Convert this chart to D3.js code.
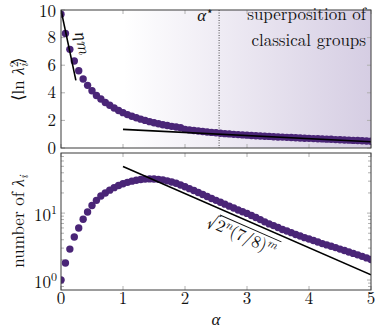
<!DOCTYPE html>
<html><head><meta charset="utf-8">
<script src="https://cdn.jsdelivr.net/npm/d3@7"></script>
<style>
body{margin:0;background:#fff;}
</style></head>
<body><svg id="c" width="381" height="332"></svg>
<script>
// ---- data ----
const nQubits = 14;
const mGates = d3.range(0, 71); // alpha = m / n
const meanLogSq = [9.70,8.30,7.15,6.30,5.60,5.00,4.54,4.15,3.80,3.55,3.30,3.10,2.90,2.72,2.56,2.42,2.30,2.19,2.09,2.00,1.91,1.83,1.76,1.69,1.63,1.57,1.52,1.47,1.35,1.31,1.27,1.23,1.20,1.16,1.13,1.10,1.07,1.04,1.02,0.99,0.97,0.95,0.93,0.91,0.89,0.87,0.85,0.84,0.82,0.80,0.79,0.77,0.76,0.74,0.73,0.71,0.70,0.68,0.67,0.66,0.64,0.63,0.61,0.60,0.58,0.57,0.55,0.54,0.52,0.51,0.49];
const countLambda = [1,1.8,2.9,4.4,6.0,8.1,10.4,13,15.5,18,20,22,24,25.8,27.4,28.8,30,31,31.7,32.2,32.4,32.3,31.9,31.2,30.3,29.2,27.9,26.3,24.7,23.2,21.8,20.3,19.0,17.7,16.5,15.5,14.5,13.6,12.7,11.9,11.1,10.5,9.9,9.2,8.6,8.0,7.4,6.9,6.5,6.1,5.7,5.4,5.1,4.8,4.55,4.3,4.1,3.9,3.7,3.5,3.35,3.2,3.05,2.9,2.76,2.63,2.5,2.38,2.26,2.14,2.03];
const steepLine = [[0,10.0],[0.24,4.9]];
const flatLine = [[1,1.35],[5,0.45]];
const scalingLine = [[1,49.8],[5,1.195]];
const alphaStar = 2.55;
const xTicks = [0,1,2,3,4,5];
const yTopTicks = [0,2,4,6,8,10];
const yBotTicks = [1,10];

// ---- layout ----
const svg = d3.select("#c");
const root = svg.append("g").attr("font-family","Latin Modern Roman, serif").attr("fill","#111");
const X0=61, X1=371;
const T0=10, T1=148, B0=153, B1=290;
const x = d3.scaleLinear([0,5],[X0,X1]);
const yT = d3.scaleLinear([0,10],[T1,T0]);
const yB = d3.scaleLog([0.71,79],[B1,B0]);
const purple = "#4a2577";
const tickCol = "#b0b0b0";
const frameCol = "#3a3a3a";
const FS = 17, SS = 12;

const defs = svg.append("defs");
const grad = defs.append("linearGradient").attr("id","shade")
  .attr("gradientUnits","userSpaceOnUse")
  .attr("x1",x(1)).attr("x2",x(5)).attr("y1",0).attr("y2",0);
grad.append("stop").attr("offset",0).attr("stop-color","#52308a").attr("stop-opacity",0);
grad.append("stop").attr("offset",1).attr("stop-color","#52308a").attr("stop-opacity",0.24);
defs.append("clipPath").attr("id","clipT").append("rect").attr("x",X0).attr("y",T0).attr("width",X1-X0).attr("height",T1-T0);
defs.append("clipPath").attr("id","clipB").append("rect").attr("x",X0).attr("y",B0).attr("width",X1-X0).attr("height",B1-B0);

// ---- top panel ----
const topG = root.append("g");
topG.append("rect").attr("x",X0).attr("y",T0).attr("width",X1-X0).attr("height",T1-T0).attr("fill","url(#shade)");
function ticksX(g, y0, y1){
  xTicks.forEach(t=>{
    g.append("line").attr("x1",x(t)).attr("x2",x(t)).attr("y1",y1).attr("y2",y1-4).attr("stroke",tickCol);
    g.append("line").attr("x1",x(t)).attr("x2",x(t)).attr("y1",y0).attr("y2",y0+4).attr("stroke",tickCol);
  });
}
ticksX(topG,T0,T1);
yTopTicks.forEach(t=>{
  topG.append("line").attr("x1",X0).attr("x2",X0+4).attr("y1",yT(t)).attr("y2",yT(t)).attr("stroke",tickCol);
  topG.append("line").attr("x1",X1).attr("x2",X1-4).attr("y1",yT(t)).attr("y2",yT(t)).attr("stroke",tickCol);
  topG.append("text").attr("x",X0-5).attr("y",yT(t)).attr("dy",t===10?"0.42em":"0.33em").attr("text-anchor","end").attr("font-size",FS).text(t);
});
topG.append("line").attr("x1",x(alphaStar)).attr("x2",x(alphaStar)).attr("y1",T0).attr("y2",T1)
  .attr("stroke","#222").attr("stroke-width",0.8).attr("stroke-dasharray","1,1.5");
const tc = topG.append("g").attr("clip-path","url(#clipT)");
tc.selectAll("circle").data(mGates).join("circle")
  .attr("cx",m=>x(m/nQubits)).attr("cy",(m,i)=>yT(meanLogSq[i])).attr("r",3.7).attr("fill",purple);
const lineT = d3.line().x(d=>x(d[0])).y(d=>yT(d[1]));
tc.append("path").attr("d",lineT(steepLine)).attr("stroke","#000").attr("stroke-width",1.6).attr("fill","none");
tc.append("path").attr("d",lineT(flatLine)).attr("stroke","#000").attr("stroke-width",1.6).attr("fill","none");
topG.append("rect").attr("x",X0).attr("y",T0).attr("width",X1-X0).attr("height",T1-T0).attr("fill","none").attr("stroke",frameCol).attr("stroke-width",1);
const aS = topG.append("text").attr("x",x(alphaStar)-5).attr("y",21).attr("text-anchor","end").attr("font-size",FS);
aS.append("tspan").attr("font-style","italic").text("α");
aS.append("tspan").attr("dy",-6).attr("font-size",SS).text("⋆");
topG.append("text").attr("x",366).attr("y",20).attr("text-anchor","end").attr("font-size",FS).text("superposition of");
topG.append("text").attr("x",366).attr("y",46).attr("text-anchor","end").attr("font-size",FS).text("classical groups");
topG.append("text").attr("transform","translate(83,43) rotate(78)").attr("text-anchor","middle").attr("dy","0.35em")
  .attr("font-size",FS).attr("font-style","italic").text("ηm");
root.append("text").attr("transform",`translate(18,${(T0+T1)/2}) rotate(-90)`).attr("text-anchor","middle").attr("dy","0.35em")
  .attr("font-size",FS).html('⟨ln <tspan font-style="italic">λ</tspan><tspan font-size="12" dy="-6">2</tspan><tspan font-size="12" font-style="italic" dx="-6" dy="10">i</tspan><tspan dy="-4">⟩</tspan>');

// ---- bottom panel ----
const bot = root.append("g");
ticksX(bot,B0,B1);
const minor = [];
[0.1,1,10].forEach(d=>{for(let k=1;k<10;k++){const v=d*k; if(v>=0.71&&v<=79) minor.push(v);}});
minor.forEach(v=>{
  const major = yBotTicks.includes(v);
  const L = major?4:3;
  bot.append("line").attr("x1",X0).attr("x2",X0+L).attr("y1",yB(v)).attr("y2",yB(v)).attr("stroke",tickCol);
  bot.append("line").attr("x1",X1).attr("x2",X1-L).attr("y1",yB(v)).attr("y2",yB(v)).attr("stroke",tickCol);
});
yBotTicks.forEach(v=>{
  const t = bot.append("text").attr("x",X0-4).attr("y",yB(v)).attr("dy","0.45em").attr("text-anchor","end").attr("font-size",FS);
  t.append("tspan").text("10");
  t.append("tspan").attr("font-size",SS).attr("dy",-7).text(Math.round(Math.log10(v)));
});
const bc = bot.append("g").attr("clip-path","url(#clipB)");
bc.selectAll("circle").data(mGates).join("circle")
  .attr("cx",m=>x(m/nQubits)).attr("cy",(m,i)=>yB(countLambda[i])).attr("r",3.7).attr("fill",purple);
const lineB = d3.line().x(d=>x(d[0])).y(d=>yB(d[1]));
bc.append("path").attr("d",lineB(scalingLine)).attr("stroke","#000").attr("stroke-width",1.6).attr("fill","none");
bot.append("rect").attr("x",X0).attr("y",B0).attr("width",X1-X0).attr("height",B1-B0).attr("fill","none").attr("stroke",frameCol).attr("stroke-width",1);
xTicks.forEach(t=>{
  bot.append("text").attr("x",x(t)).attr("y",B1+14).attr("text-anchor","middle").attr("font-size",FS).text(t);
});
root.append("text").attr("x",(X0+X1)/2).attr("y",325).attr("text-anchor","middle").attr("font-size",FS).attr("font-style","italic").text("α");
root.append("text").attr("transform",`translate(18,${(B0+B1)/2}) rotate(-90)`).attr("text-anchor","middle").attr("dy","0.35em")
  .attr("font-size",FS).html('number of <tspan font-style="italic">λ</tspan><tspan font-size="12" font-style="italic" dy="4">i</tspan>');
const ang = Math.atan2(yB(scalingLine[1][1])-yB(scalingLine[0][1]), x(scalingLine[1][0])-x(scalingLine[0][0]))*180/Math.PI;
const sq = bot.append("g").attr("transform",`translate(242,235) rotate(${ang})`);
const st = sq.append("text").attr("text-anchor","middle").attr("y",6).attr("font-size",FS);
const rad = st.append("tspan").attr("font-size",20).text("√");
st.append("tspan").text("2");
st.append("tspan").attr("font-size",SS).attr("dy",-6).attr("font-style","italic").text("n");
st.append("tspan").attr("dy",6).text("(7/8)");
st.append("tspan").attr("font-size",SS).attr("dy",-6).attr("font-style","italic").text("m");
const bb = st.node().getBBox();
const rw = rad.node().getComputedTextLength();
sq.append("line").attr("x1",bb.x+rw-1).attr("x2",bb.x+bb.width+1).attr("y1",-9.5).attr("y2",-9.5).attr("stroke","#111").attr("stroke-width",0.9);
</script></body></html>
